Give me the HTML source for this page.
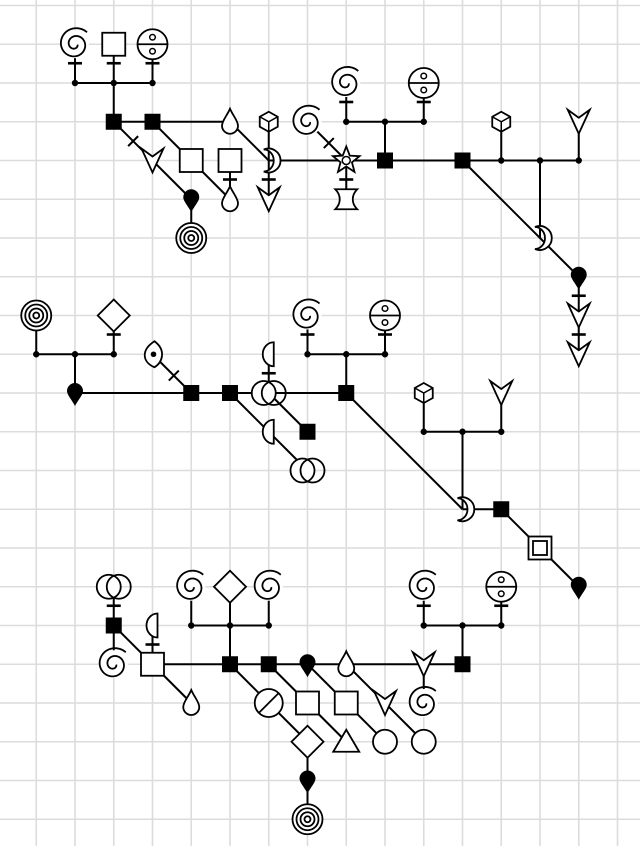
<!DOCTYPE html>
<html><head><meta charset="utf-8"><style>
html,body{margin:0;padding:0;background:#fff;}
svg{display:block;}
</style></head><body>
<svg id="chart" width="640" height="846" viewBox="0 0 640 846" xmlns="http://www.w3.org/2000/svg">
<g id="grid"></g>
<g id="edges"></g>
<g id="dots"></g>
<g id="ticks"></g>
<g id="nodes"></g>
</svg>
<script>
// grid-coordinate data
const edges = [
[2,1,2,2],[3,1,3,2],[4,1,4,2],[2,2,4,2],[3,2,3,3],[3,3,6,3],[3,3,5,5],[5,5,5,6],[4,3,6,5],[6,4,6,5],[6,3,7,4],[7,3,7,5],[7,4,12,4],[8,3,9,4],[9,4,9,5],[9,2,9,3],[11,2,11,3],[9,3,11,3],[10,3,10,4],[12,4,15,4],[13,3,13,4],[15,3,15,4],[14,4,14,6],[12,4,15,7],[15,7,15,9],
[1,8,1,9],[3,8,3,9],[1,9,3,9],[2,9,2,10],[2,10,9,10],[4,9,5,10],[6,10,8,12],[7,10,8,11],[7,9,7,10],[8,8,8,9],[10,8,10,9],[8,9,10,9],[9,9,9,10],[9,10,12,13],[12,13,13,13],[13,13,15,15],[11,10,11,11],[13,10,13,11],[11,11,13,11],[12,11,12,13],
[3,15,3,17],[3,16,4,17],[4,16,4,17],[4,17,5,18],[5,15,5,16],[6,15,6,16],[7,15,7,16],[5,16,7,16],[6,16,6,17],[4,17,12,17],[6,17,8,19],[8,19,8,21],[7,17,9,19],[8,17,10,19],[9,17,11,19],[11,17,11,18],[11,15,11,16],[13,15,13,16],[11,16,13,16],[12,16,12,17]
];
const dots = [[2,2],[3,2],[4,2],[9,3],[10,3],[11,3],[13,4],[14,4],[15,4],[1,9],[2,9],[3,9],[8,9],[9,9],[10,9],[11,11],[12,11],[13,11],[5,16],[6,16],[7,16],[11,16],[12,16],[13,16]];
const nodeTypes = ['spiral','square','dcircle','bsq','bsq','droplet','yarrow','square','square','droplet','bdrop','target','cube','crescent','yarrow','spiral','star','hourglass','spiral','dcircle','bsq','bsq','cube','yarrow','crescent','bdrop','yarrow','yarrow',
'target','diamond','bdrop','eye','bsq','bsq','dblcircle','halfc','halfc','dblcircle','bsq','spiral','dcircle','bsq','cube','yarrow','crescent','bsq','dsq','bdrop',
'dblcircle','bsq','spiral','halfc','square','droplet','spiral','diamond','spiral','bsq','bsq','bdrop','droplet','yarrow','bsq','circslash','diamond','bdrop','target','square','triangle','square','circle','yarrow','circle','spiral','spiral','dcircle'];
const nodePos = [[2,1],[3,1],[4,1],[3,3],[4,3],[6,3],[4,4],[5,4],[6,4],[6,5],[5,5],[5,6],[7,3],[7,4],[7,5],[8,3],[9,4],[9,5],[9,2],[11,2],[10,4],[12,4],[13,3],[15,3],[14,6],[15,7],[15,8],[15,9],
[1,8],[3,8],[2,10],[4,9],[5,10],[6,10],[7,10],[7,9],[7,11],[8,12],[8,11],[8,8],[10,8],[9,10],[11,10],[13,10],[12,13],[13,13],[14,14],[15,15],
[3,15],[3,16],[3,17],[4,16],[4,17],[5,18],[5,15],[6,15],[7,15],[6,17],[7,17],[8,17],[9,17],[11,17],[12,17],[7,18],[8,19],[8,20],[8,21],[8,18],[9,19],[9,18],[10,19],[10,18],[11,19],[11,18],[11,15],[13,15]];
const vTicks = [[2,1],[3,1],[4,1],[6,4],[7,4],[9,4],[9,2],[11,2],[15,7],[15,8],[3,8],[8,8],[10,8],[7,9],[3,15],[4,16],[11,15],[13,15]];
const dTicks = [[3,3,4,4,0.5],[8,3,9,4,0.55],[4,9,5,10,0.55]];

const NS='http://www.w3.org/2000/svg';
const X=i=>-2.5+38.75*i, Y=j=>5.5+38.75*j;
function mk(tag,attrs,parent){const e=document.createElementNS(NS,tag);for(const k in attrs)e.setAttribute(k,attrs[k]);parent.appendChild(e);return e;}
const G=document.getElementById('grid');
for(let i=0;i<=17;i++){const l=mk('line',{x1:X(i),y1:0,x2:X(i),y2:846,stroke:'#dcdcdc','stroke-width':1.6},G);

}
for(let j=0;j<=22;j++){const l=mk('line',{x1:0,y1:Y(j),x2:640,y2:Y(j),stroke:'#dcdcdc','stroke-width':1.6},G);

}
const E=document.getElementById('edges');
edges.forEach(e=>{const l=mk('line',{x1:X(e[0]),y1:Y(e[1]),x2:X(e[2]),y2:Y(e[3]),stroke:'#000','stroke-width':2},E);

});
const D=document.getElementById('dots');
dots.forEach(d=>{const c=mk('circle',{cx:X(d[0]),cy:Y(d[1]),r:3.2,fill:'#000'},D);

});
const T=document.getElementById('ticks');
const N=document.getElementById('nodes');

function spiralPath(R){let p='';const tmax=3.7*Math.PI;for(let k=0;k<=120;k++){const t=k/120*tmax;const r=2.5+(R-2.5)*t/tmax;const a=-Math.PI/4 - (tmax-t);p+=(k?'L':'M')+(r*Math.cos(a)).toFixed(2)+','+(r*Math.sin(a)).toFixed(2);}return p;}
const S={fill:'#fff',stroke:'#000','stroke-width':1.8};
function glyph(type,g){
 switch(type){
 case 'spiral': mk('circle',{r:14,fill:'#fff',stroke:'none'},g); mk('path',{d:spiralPath(17),fill:'none',stroke:'#000','stroke-width':1.8},g); break;
 case 'square': mk('rect',Object.assign({x:-11.5,y:-11.5,width:23,height:23},S),g); break;
 case 'dsq': mk('rect',Object.assign({x:-11.5,y:-11.5,width:23,height:23},S),g); mk('rect',Object.assign({x:-7,y:-7,width:14,height:14},S),g); break;
 case 'bsq': mk('rect',{x:-8,y:-8,width:16,height:16,fill:'#000'},g); break;
 case 'dcircle': mk('circle',Object.assign({r:15},S),g); mk('line',{x1:-15,y1:0,x2:15,y2:0,stroke:'#000','stroke-width':1.8},g); mk('circle',{cy:-7,r:2.8,fill:'#fff',stroke:'#000','stroke-width':1.5},g); mk('circle',{cy:7,r:2.8,fill:'#fff',stroke:'#000','stroke-width':1.5},g); break;
 case 'target': mk('circle',Object.assign({r:15},S),g); mk('circle',{r:11,fill:'none',stroke:'#000','stroke-width':1.8},g); mk('circle',{r:7,fill:'none',stroke:'#000','stroke-width':1.8},g); mk('circle',{r:3,fill:'none',stroke:'#000','stroke-width':1.8},g); break;
 case 'droplet': mk('path',Object.assign({d:'M0,-13 C3,-6 8,-1 8,4 A8,8 0 0 1 -8,4 C-8,-1 -3,-6 0,-13 Z'},S),g); break;
 case 'bdrop': mk('path',{d:'M0,13 C-3,7 -8,2 -8,-2 A8,8 0 0 1 8,-2 C8,2 3,7 0,13 Z',fill:'#000'},g); break;
 case 'yarrow': mk('path',Object.assign({d:'M-11,-12 L0,-4 L11,-12 L0,12 Z','stroke-linejoin':'miter'},S),g); break;
 case 'cube': mk('path',Object.assign({d:'M0,-10 L9,-5 L9,5 L0,10 L-9,5 L-9,-5 Z'},S),g); mk('path',{d:'M-9,-5 L0,0 L9,-5 M0,0 L0,10',fill:'none',stroke:'#000','stroke-width':1.5},g); break;
 case 'crescent': mk('path',Object.assign({d:'M-5,-11 A12,12 0 1 1 -5,11 A10,11 0 0 0 -5,-11 Z'},S),g); break;
 case 'star': {let p='';for(let k=0;k<10;k++){const r=k%2?6:14;const a=-Math.PI/2+k*Math.PI/5;p+=(k?'L':'M')+(r*Math.cos(a)).toFixed(2)+','+(r*Math.sin(a)).toFixed(2);}mk('path',Object.assign({d:p+'Z'},S),g);mk('circle',{r:4,fill:'#fff',stroke:'#000','stroke-width':1.5},g);} break;
 case 'hourglass': mk('path',Object.assign({d:'M-11,-10 L11,-10 C5,-4 5,4 11,10 L-11,10 C-5,4 -5,-4 -11,-10 Z'},S),g); break;
 case 'diamond': mk('path',Object.assign({d:'M0,-16 L16,0 L0,16 L-16,0 Z'},S),g); break;
 case 'halfc': mk('path',Object.assign({d:'M5,-12 L5,12 A11,12 0 0 1 5,-12 Z'},S),g); break;
 case 'dblcircle': mk('circle',Object.assign({cx:-5,r:12},S),g); mk('circle',{cx:5,r:12,fill:'none',stroke:'#000','stroke-width':1.8},g); break;
 case 'eye': mk('path',Object.assign({d:'M2,-13 C14,-4 10,8 2,13 C-10,8 -12,-4 2,-13 Z'},S),g); mk('circle',{cx:1,r:2.8,fill:'#000'},g); break;
 case 'circle': mk('circle',Object.assign({r:12},S),g); break;
 case 'circslash': mk('circle',Object.assign({r:14},S),g); mk('line',{x1:-10,y1:10,x2:10,y2:-10,stroke:'#000','stroke-width':1.8},g); break;
 case 'triangle': mk('path',Object.assign({d:'M0,-12 L13,10 L-13,10 Z'},S),g); break;
 }
}
vTicks.forEach(t=>{const l=mk('line',{x1:X(t[0])-7,y1:Y(t[1])+19,x2:X(t[0])+7,y2:Y(t[1])+19,stroke:'#000','stroke-width':2.6},T);

});
dTicks.forEach(t=>{const mx=X(t[0])+(X(t[2])-X(t[0]))*t[4], my=Y(t[1])+(Y(t[3])-Y(t[1]))*t[4];
const l=mk('line',{x1:mx-5,y1:my+5,x2:mx+5,y2:my-5,stroke:'#000','stroke-width':2},T);

});
nodeTypes.forEach((t,k)=>{const p=nodePos[k];
 const g=mk('g',{transform:'translate('+X(p[0])+','+Y(p[1])+')'},N);
 
 
 glyph(t,g);});
</script>
</body></html>
